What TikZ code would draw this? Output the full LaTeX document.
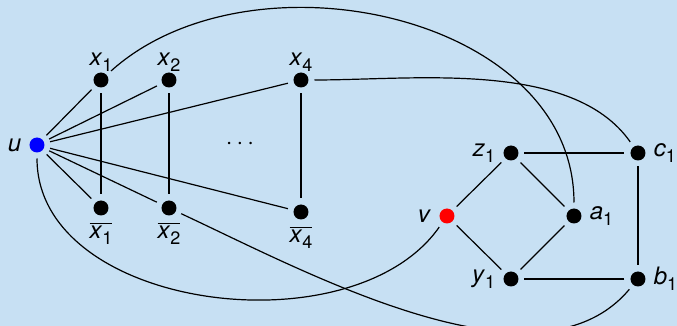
\documentclass[tikz,border=0pt]{standalone}
\usepackage{fontspec}
\setmainfont{TeX Gyre Heros}
\usepackage{tikz}
\usetikzlibrary{positioning}

\definecolor{slidebg}{RGB}{199,224,243}
\newcommand{\vlab}[2]{\textit{#1}\raisebox{-0.45ex}{\small #2}}
\newcommand{\vneg}[2]{$\overline{\mbox{\vlab{#1}{#2}}}$}

\begin{document}
\begin{tikzpicture}[x=0.5pt, y=-0.5pt,
    vtx/.style={circle, fill=black, inner sep=0pt, minimum size=7.5pt, outer sep=3pt},
    every label/.style={font=\large, inner sep=1pt},
    edge/.style={line width=0.6pt}]

    % Background
    \fill[slidebg] (0,0) rectangle (677,326);
    \useasboundingbox (0,0) rectangle (677,326);

    % Left part
    \node[vtx, fill=blue, label={[label distance=0pt]left:\textit{u}}] (u) at (37,145) {};
    \node[vtx, label={[label distance=-3.5pt]above:\vlab{x}{1}}] (x1) at (101,80) {};
    \node[vtx, label={[label distance=-3.5pt]above:\vlab{x}{2}}] (x2) at (169,80) {};
    \node[vtx, label={[label distance=-3.5pt]above:\vlab{x}{4}}] (x4) at (301,80) {};
    \node[vtx, label={[label distance=-1pt]below:\vneg{x}{1}}] (nx1) at (101,208) {};
    \node[vtx, label={[label distance=-1pt]below:\vneg{x}{2}}] (nx2) at (169,208) {};
    \node[vtx, label={[label distance=-1pt]below:\vneg{x}{4}}] (nx4) at (301,212) {};
    \node[font=\large] (dots) at (240,144) {$\cdots$};

    % Right part
    \node[vtx, fill=red, label={[label distance=0pt]left:\textit{v}}] (v) at (447,216) {};
    \node[vtx, label={[label distance=0pt]left:\vlab{z}{1}}] (z1) at (511,153) {};
    \node[vtx, label={[label distance=0pt]right:\vlab{a}{1}}] (a1) at (574,216) {};
    \node[vtx, label={[label distance=0pt]left:\vlab{y}{1}}] (y1) at (511,279) {};
    \node[vtx, label={[label distance=0pt]right:\vlab{c}{1}}] (c1) at (638,153) {};
    \node[vtx, label={[label distance=0pt]right:\vlab{b}{1}}] (b1) at (638,279) {};

    % Edges
    \foreach \t in {x1,x2,x4,nx1,nx2,nx4}
        \draw[edge] (u) -- (\t);
    \draw[edge] (x1) -- (nx1);
    \draw[edge] (x2) -- (nx2);
    \draw[edge] (x4) -- (nx4);
    \draw[edge] (v) -- (z1) -- (a1) -- (y1) -- (v);
    \draw[edge] (z1) -- (c1) -- (b1) -- (y1);

    % Long connections
    \draw[edge] (x1) to[out=42, in=90, looseness=1] (a1);
    \draw[edge] (x4) to[out=0, in=125, looseness=0.8] (c1);
    \draw[edge] (u) to[out=-90, in=-125, looseness=0.95] (v);
    \draw[edge] (nx2) to[out=-25, in=-130, looseness=0.8] (b1);

\end{tikzpicture}
\end{document}
